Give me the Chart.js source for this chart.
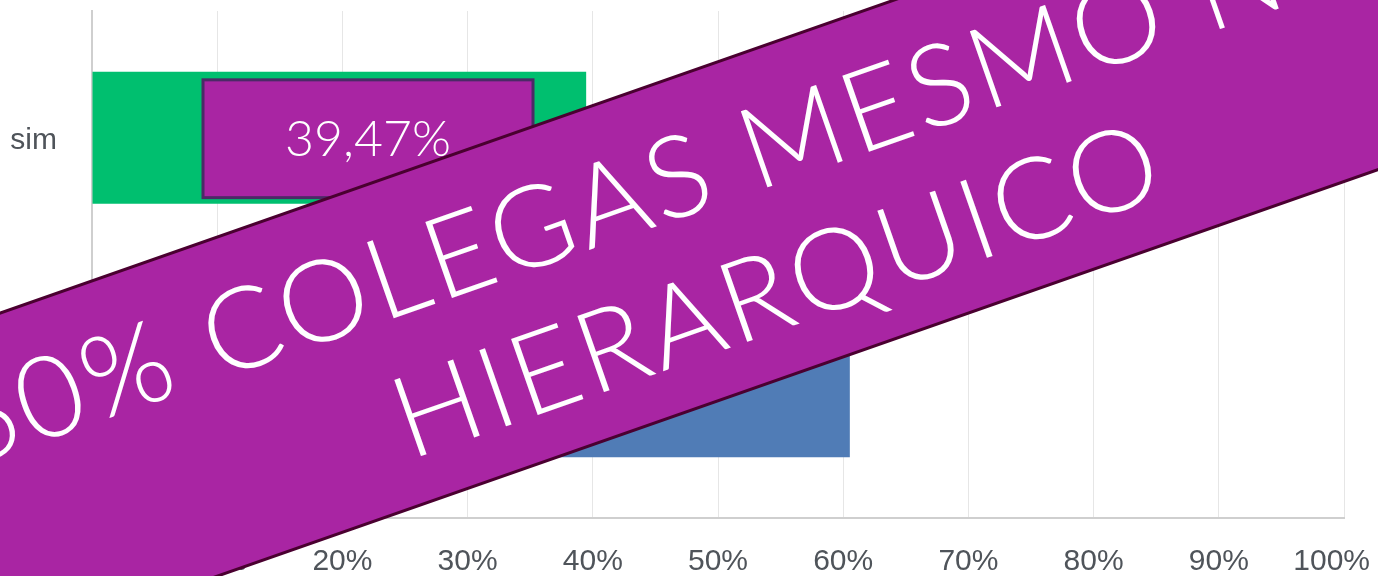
<!DOCTYPE html>
<html>
<head>
<meta charset="utf-8">
<script src="https://cdn.jsdelivr.net/npm/chart.js@4.4.0/dist/chart.umd.min.js"></script>
<style>
html, body { margin: 0; padding: 0; background: #fff; }
#wrap { width: 1378px; height: 576px; }
</style>
</head>
<body>
<div id="wrap"><canvas id="chart"></canvas></div>
<script>
// data
const categories = ["sim", "não"];
const percentValues = [39.47, 60.53];
const barColors = ["#00BF6F", "#507CB6"];
const tickStep = 10;
const bannerLines = ["60% COLEGAS MESMO NÍVEL", "HIERARQUICO"];

const thinFont = "Lato";
const axisFont = { family: "Liberation Sans", size: 30 };
const axisColor = "#4f545a";

// keep the last x label ("100%") inside the canvas, like the original
const lastLabelInside = {
    id: "lastLabelInside",
    beforeDraw(chart) {
        const items = chart.scales.x.getLabelItems();
        const last = items[items.length - 1];
        if (last) {
            last.options.textAlign = "right";
            last.options.translation[0] = chart.width - 8;
        }
    }
};

// purple label box + rotated banner drawn on top of the chart
const overlay = {
    id: "overlay",
    afterDraw(chart) {
        const ctx = chart.ctx;
        const area = chart.chartArea;
        const bar = chart.getDatasetMeta(0).data[0];

        // label box over the "sim" bar
        const boxW = 330, boxH = bar.height - 14;
        const boxX = area.left + 111;
        const boxY = bar.y - boxH / 2 + 1;
        ctx.save();
        ctx.fillStyle = "#A925A3";
        ctx.strokeStyle = "#4B2A66";
        ctx.lineWidth = 3;
        ctx.fillRect(boxX, boxY, boxW, boxH);
        ctx.strokeRect(boxX, boxY, boxW, boxH);
        ctx.fillStyle = "#fff";
        ctx.font = "300 50px " + thinFont;
        ctx.textAlign = "center";
        ctx.textBaseline = "middle";
        ctx.fillText(percentValues[0].toFixed(2).replace(".", ",") + "%", boxX + boxW / 2, bar.y + 2);
        ctx.restore();

        // big rotated banner
        const angle = 19.3 * Math.PI / 180;
        ctx.save();
        ctx.translate(753, 219);
        ctx.rotate(-angle);
        ctx.fillStyle = "#A925A3";
        ctx.fillRect(-1400, -160, 2800, 320);
        ctx.strokeStyle = "#4A0030";
        ctx.lineWidth = 3;
        ctx.beginPath();
        ctx.moveTo(-1400, -160); ctx.lineTo(1400, -160);
        ctx.moveTo(-1400, 160); ctx.lineTo(1400, 160);
        ctx.stroke();
        ctx.fillStyle = "#fff";
        ctx.font = "300 114px " + thinFont;
        ctx.letterSpacing = "4px";
        ctx.textAlign = "center";
        ctx.textBaseline = "alphabetic";
        ctx.fillText(bannerLines[0], 0, -25);
        ctx.fillText(bannerLines[1], 0, 114);
        ctx.restore();
    }
};

new Chart(document.getElementById("chart"), {
    type: "bar",
    data: {
        labels: categories,
        datasets: [
            {
                data: percentValues,
                backgroundColor: barColors,
                borderWidth: 0,
                barPercentage: 0.65,
                categoryPercentage: 0.8,
            },
        ],
    },
    options: {
        indexAxis: "y",
        responsive: true,
        maintainAspectRatio: false,
        animation: false,
        layout: { padding: { top: 11, right: 34, bottom: 0, left: 0 } },
        plugins: {
            legend: { display: false },
            tooltip: { enabled: false },
        },
        scales: {
            x: {
                min: 0,
                max: 100,
                afterFit: (scale) => {
                    scale.height = 58;
                    scale.paddingLeft = 0;
                    scale.paddingRight = 0;
                },
                ticks: {
                    stepSize: tickStep,
                    maxRotation: 0,
                    autoSkip: false,
                    padding: 26,
                    color: axisColor,
                    font: axisFont,
                    callback: (v) => v + "%",
                },
                grid: { color: "#e6e6e6", lineWidth: 1, drawTicks: false },
                border: { color: "#cfcfcf", width: 2 },
            },
            y: {
                afterFit: (scale) => {
                    scale.width = 92;
                    scale.paddingTop = 0;
                    scale.paddingBottom = 0;
                },
                ticks: {
                    padding: 35,
                    labelOffset: 3,
                    color: axisColor,
                    font: axisFont,
                },
                grid: { display: false, drawTicks: false },
                border: { color: "#cfcfcf", width: 2 },
            },
        },
    },
    plugins: [lastLabelInside, overlay],
});
</script>
</body>
</html>
